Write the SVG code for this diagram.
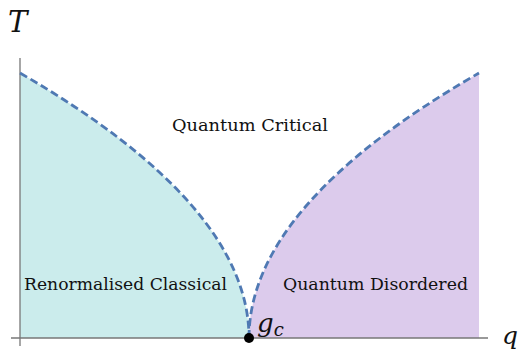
<svg xmlns="http://www.w3.org/2000/svg" width="519" height="351" viewBox="0 0 519 351">
<style>
.lbl{font-family:"DejaVu Serif","Liberation Serif",serif;font-size:16px;fill:#111}
.math{font-family:"DejaVu Serif","Liberation Serif",serif;font-style:italic;fill:#111}
.axis{stroke:#777;stroke-width:1.3;fill:none}
.crit{stroke:#4f79b3;stroke-width:2.8;stroke-dasharray:8 4;fill:none}
</style>
<g id="regions">
<path id="rc-fill" d="M20,73 Q249,205.5 249,338 L20,338 Z" fill="#cbecec"/>
<path id="qd-fill" d="M249,338 Q249,205.5 479,73 L479,338 Z" fill="#dccbec"/>
</g>
<g id="axes">
<line class="axis" x1="20" y1="58" x2="20" y2="346"/>
<line class="axis" x1="11" y1="338" x2="488" y2="338"/>
<text class="math" x="8" y="32" font-size="29">T</text>
<text class="math" x="502" y="344" font-size="25">q</text>
</g>
<g id="connectors">
<path class="crit" d="M20,73 Q249,205.5 249,338"/>
<path class="crit" d="M249,338 Q249,205.5 479,73"/>
</g>
<g id="critical-point">
<circle cx="249" cy="338" r="5" fill="#000"/>
<text class="math" x="257" y="332" font-size="26">g<tspan font-size="18" dy="4">c</tspan></text>
</g>
<g id="labels">
<text class="lbl" x="172" y="131" textLength="156" lengthAdjust="spacingAndGlyphs">Quantum Critical</text>
<text class="lbl" x="24" y="290" textLength="203" lengthAdjust="spacingAndGlyphs">Renormalised Classical</text>
<text class="lbl" x="283" y="290" textLength="185" lengthAdjust="spacingAndGlyphs">Quantum Disordered</text>
</g>
</svg>
